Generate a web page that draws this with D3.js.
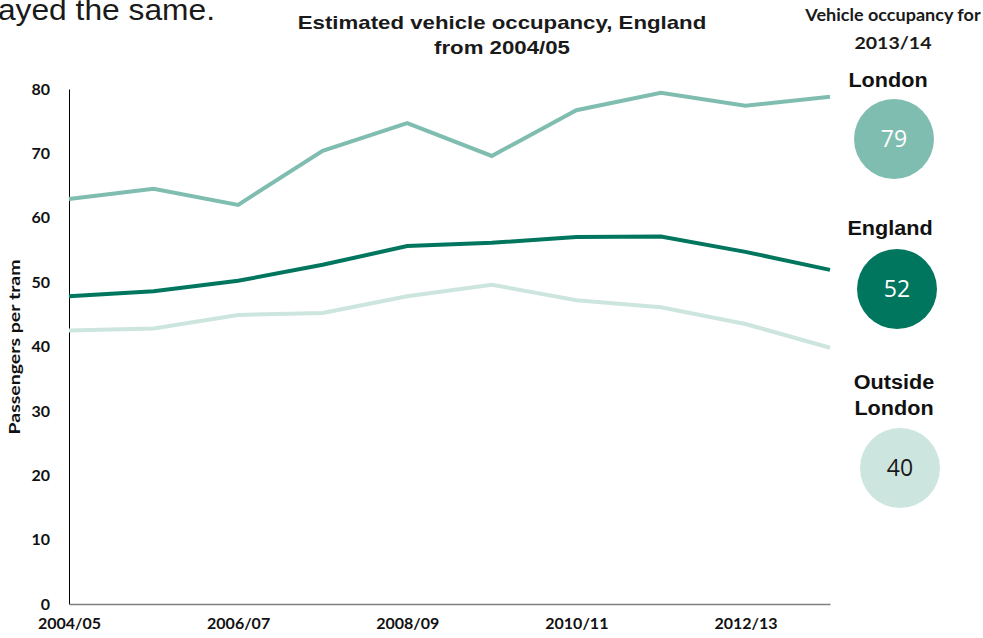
<!DOCTYPE html>
<html>
<head>
<meta charset="utf-8">
<script src="https://cdn.jsdelivr.net/npm/d3@7"></script>
<style>
  html, body { margin: 0; padding: 0; background: #fff; }
  svg { display: block; }
</style>
</head>
<body>
<svg id="chart" width="983" height="638"></svg>
<script>
const years = ["2004/05","2005/06","2006/07","2007/08","2008/09","2009/10","2010/11","2011/12","2012/13","2013/14"];
const tickLabels = ["2004/05","2006/07","2008/09","2010/11","2012/13"];
const yTicks = [0,10,20,30,40,50,60,70,80];
const london = [62.9, 64.5, 62.0, 70.4, 74.7, 69.6, 76.7, 79.4, 77.4, 78.8];
const england = [47.8, 48.6, 50.2, 52.7, 55.6, 56.1, 57.0, 57.1, 54.7, 51.9];
const outside = [42.5, 42.8, 44.9, 45.2, 47.8, 49.6, 47.2, 46.1, 43.5, 39.8];
const seriesNames = ["London", "England", "Outside London"];
const latest = [79, 52, 40];
const colors = ["#80bdb1", "#00765f", "#cde5df"];

const svg = d3.select("#chart");
const x = d3.scalePoint().domain(years).range([69, 830]);
const y = d3.scaleLinear().domain([0, 80]).range([604, 89]);

const arial = "Liberation Sans, Arial, sans-serif";
const lato = "Lato, sans-serif";

// stretch a text horizontally by a factor (reference text is rendered wide)
function widen(sel, factor) {
  sel.each(function () {
    const w = this.getComputedTextLength();
    d3.select(this).attr("textLength", w * factor).attr("lengthAdjust", "spacingAndGlyphs");
  });
  return sel;
}

// partial caption text at top-left (cut by the left edge, as in the reference)
widen(svg.append("text").attr("x", 215).attr("y", 20).attr("text-anchor", "end")
  .attr("font-family", arial).attr("font-size", 29)
  .attr("fill", "#1a1a1a").text("stayed the same."), 1.095);

// title
[["Estimated vehicle occupancy, England", 29], ["from 2004/05", 54]].forEach(([t, yy]) => {
  widen(svg.append("text").attr("x", 502).attr("y", yy).attr("text-anchor", "middle")
    .attr("font-family", arial).attr("font-weight", "bold")
    .attr("font-size", 19).attr("fill", "#1a1a1a").text(t), 1.17);
});

// right header
[["Vehicle occupancy for", 21], ["2013/14", 49]].forEach(([t, yy], i) => {
  widen(svg.append("text").attr("x", 893).attr("y", yy).attr("text-anchor", "middle")
    .attr("font-family", lato).attr("font-weight", "bold")
    .attr("font-size", 17).attr("fill", "#1a1a1a").text(t), i === 0 ? 1.06 : 1.15);
});

// y axis
const yAxis = d3.axisLeft(y).tickValues(yTicks).tickSize(0).tickPadding(19);
const gy = svg.append("g").attr("transform", "translate(69,0)").call(yAxis);
gy.select(".domain").attr("stroke", "#000").attr("stroke-width", 1);
gy.selectAll("text").attr("font-family", lato).attr("font-weight", "bold")
  .attr("font-size", 16).attr("fill", "#111");

// x axis
const xAxis = d3.axisBottom(x).tickValues(tickLabels).tickSize(0).tickPadding(14);
const gx = svg.append("g").attr("transform", "translate(0,604)").call(xAxis);
gx.select(".domain").attr("stroke", "#808080").attr("stroke-width", 1.5);
gx.selectAll("text").attr("font-family", lato).attr("font-weight", "bold")
  .attr("font-size", 16).attr("fill", "#111");

// y axis title
const yt = svg.append("text").attr("transform", "translate(20,347) rotate(-90)")
  .attr("text-anchor", "middle").attr("font-family", lato)
  .attr("font-weight", "bold").attr("font-size", 15).attr("fill", "#111")
  .text("Passengers per tram");
widen(yt, 1.3);

// lines
const line = d3.line().x((d, i) => x(years[i])).y(d => y(d));
[outside, england, london].forEach((s, k) => {
  const ci = [2, 1, 0][k];
  svg.append("path").datum(s).attr("d", line).attr("fill", "none")
    .attr("stroke", colors[ci]).attr("stroke-width", 4).attr("stroke-linejoin", "miter");
});

// right-side badges
const badges = [
  { lines: ["London"], ly: [87], lx: 888, cx: 894, cy: 139 },
  { lines: ["England"], ly: [235], lx: 890, cx: 897, cy: 289 },
  { lines: ["Outside", "London"], ly: [389, 415], lx: 894, cx: 900, cy: 468 }
];
badges.forEach((b, i) => {
  b.lines.forEach((l, j) => {
    widen(svg.append("text").attr("x", b.lx).attr("y", b.ly[j]).attr("text-anchor", "middle")
      .attr("font-family", arial).attr("font-weight", "bold").attr("font-size", 20)
      .attr("fill", "#111").text(l), 1.08);
  });
  svg.append("circle").attr("cx", b.cx).attr("cy", b.cy).attr("r", 40).attr("fill", colors[i]);
  svg.append("text").attr("x", b.cx).attr("y", b.cy + 8).attr("text-anchor", "middle")
    .attr("font-family", "Open Sans, sans-serif").attr("font-size", 23)
    .attr("fill", i === 2 ? "#1a1a1a" : "#fff").text(latest[i]);
});
</script>
</body>
</html>
